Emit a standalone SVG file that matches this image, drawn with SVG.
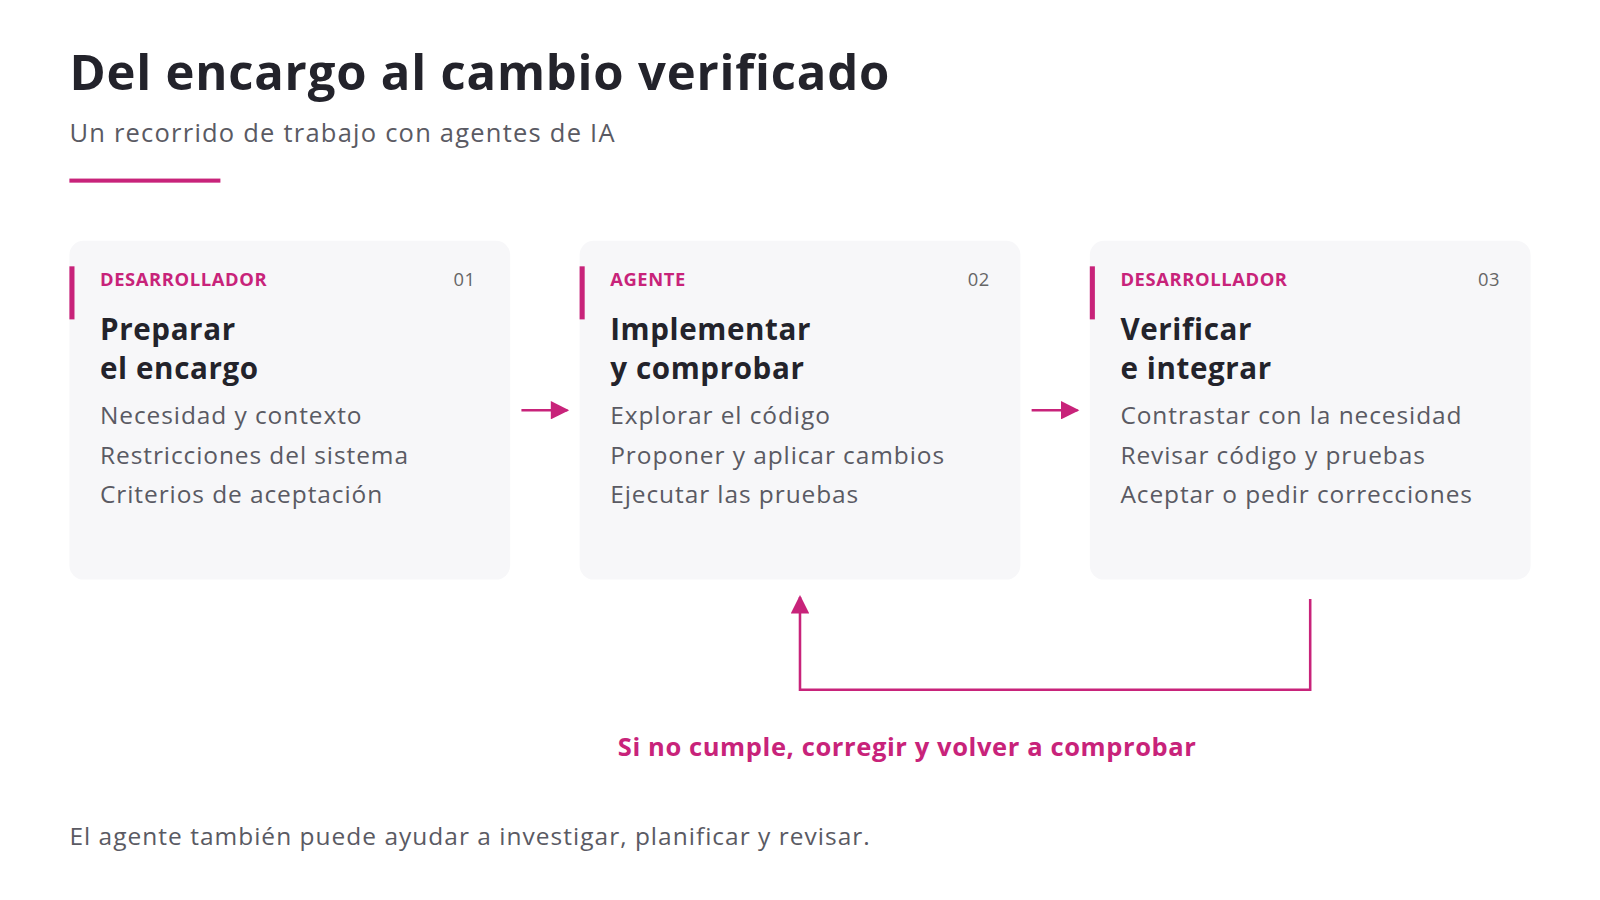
<svg xmlns="http://www.w3.org/2000/svg" width="1600" height="900" viewBox="0 0 1600 900">
<style>
text{font-family:"Open Sans","Noto Sans",sans-serif}
.card{fill:#f7f7f9}
.bar{fill:#c8237a}
.role{font-size:18px;font-weight:700;fill:#c8237a;letter-spacing:0.6px}
.num{font-size:18px;fill:#666;text-anchor:end;letter-spacing:0.5px}
.head{font-size:29px;font-weight:700;fill:#23232b;letter-spacing:0.6px}
.item{font-size:24px;fill:#5a5a63;letter-spacing:0.9px}
.conn{stroke:#c8237a;stroke-width:2.5;fill:none}
</style>
<defs><marker id="a" viewBox="0 0 10 10" refX="9" refY="5" markerWidth="20" markerHeight="18" orient="auto" markerUnits="userSpaceOnUse"><path d="M0,0L10,5L0,10z" fill="#c8237a"/></marker></defs>
<rect width="1600" height="900" fill="#fff"/>
<g transform="scale(1.0204)">
<text x="68" y="88" font-size="48" font-weight="700" fill="#23232b" letter-spacing="0.8">Del encargo al cambio verificado</text>
<text x="68" y="139" font-size="25" fill="#5a5a63" letter-spacing="1.2">Un recorrido de trabajo con agentes de IA</text>
<rect x="68" y="175" width="148" height="4" fill="#c8237a"/>
<g id="node1"><rect class="card" x="68" y="236" width="432" height="332" rx="14"/><rect class="bar" x="68" y="261" width="5" height="52"/>
<text class="role" x="98" y="280">DESARROLLADOR</text><text class="num" x="466" y="280">01</text>
<text class="head" x="98" y="333">Preparar</text><text class="head" x="98" y="371">el encargo</text>
<text class="item" x="98" y="416">Necesidad y contexto</text><text class="item" x="98" y="455">Restricciones del sistema</text><text class="item" x="98" y="493">Criterios de aceptación</text></g>
<g id="node2"><rect class="card" x="568" y="236" width="432" height="332" rx="14"/><rect class="bar" x="568" y="261" width="5" height="52"/>
<text class="role" x="598" y="280">AGENTE</text><text class="num" x="970" y="280">02</text>
<text class="head" x="598" y="333">Implementar</text><text class="head" x="598" y="371">y comprobar</text>
<text class="item" x="598" y="416">Explorar el código</text><text class="item" x="598" y="455">Proponer y aplicar cambios</text><text class="item" x="598" y="493">Ejecutar las pruebas</text></g>
<g id="node3"><rect class="card" x="1068" y="236" width="432" height="332" rx="14"/><rect class="bar" x="1068" y="261" width="5" height="52"/>
<text class="role" x="1098" y="280">DESARROLLADOR</text><text class="num" x="1470" y="280">03</text>
<text class="head" x="1098" y="333">Verificar</text><text class="head" x="1098" y="371">e integrar</text>
<text class="item" x="1098" y="416">Contrastar con la necesidad</text><text class="item" x="1098" y="455">Revisar código y pruebas</text><text class="item" x="1098" y="493">Aceptar o pedir correcciones</text></g>
<g id="connectors">
<line class="conn" x1="511" y1="402" x2="556" y2="402" marker-end="url(#a)"/>
<line class="conn" x1="1011" y1="402" x2="1056" y2="402" marker-end="url(#a)"/>
<path class="conn" d="M1284,587V676H784V585" marker-end="url(#a)"/>
</g>
<text x="889" y="741" font-size="25" font-weight="700" fill="#c8237a" text-anchor="middle" letter-spacing="0.6">Si no cumple, corregir y volver a comprobar</text>
<text x="68" y="828" font-size="24" fill="#5a5a63" letter-spacing="1">El agente también puede ayudar a investigar, planificar y revisar.</text>
</g>
</svg>
